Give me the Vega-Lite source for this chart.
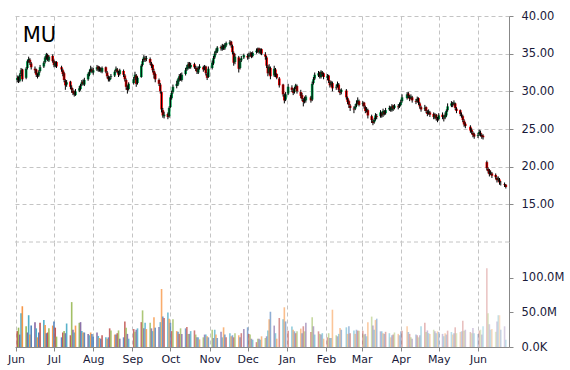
{
"$schema": "https://vega.github.io/schema/vega-lite/v6.json",
"padding": {"left": 7, "top": 10, "right": 5, "bottom": 5},
"background": "white",
"spacing": 0,
"bounds": "flush",
"config": {
  "view": {"stroke": null},
  "font": "DejaVu Sans",
  "axis": {"labelFont": "DejaVu Sans", "labelFontSize": 11.5, "labelColor": "#1a1a3a", "domainColor": "#888888", "tickColor": "#888888", "gridColor": "#c4c4c4", "gridDash": [4, 3], "gridWidth": 1, "labelOverlap": false}
},
"data": {"values": [
{"d":"2014-06-02","o":31.5,"h":32.1,"l":31.2,"c":31.8,"v":23},
{"d":"2014-06-03","o":31.9,"h":32.0,"l":31.1,"c":31.5,"v":28},
{"d":"2014-06-04","o":31.4,"h":32.4,"l":31.2,"c":32.2,"v":18},
{"d":"2014-06-05","o":32.3,"h":33.1,"l":32.0,"c":32.8,"v":49},
{"d":"2014-06-06","o":32.9,"h":33.0,"l":31.3,"c":31.6,"v":59},
{"d":"2014-06-09","o":31.8,"h":33.2,"l":31.6,"c":33.0,"v":30},
{"d":"2014-06-10","o":33.1,"h":34.2,"l":32.9,"c":34.0,"v":21},
{"d":"2014-06-11","o":34.1,"h":34.6,"l":33.8,"c":34.3,"v":46},
{"d":"2014-06-12","o":34.2,"h":34.4,"l":33.5,"c":33.8,"v":18},
{"d":"2014-06-13","o":33.7,"h":33.9,"l":32.9,"c":33.2,"v":31},
{"d":"2014-06-16","o":33.0,"h":33.3,"l":32.4,"c":32.8,"v":36},
{"d":"2014-06-17","o":32.9,"h":33.0,"l":31.9,"c":32.2,"v":27},
{"d":"2014-06-18","o":32.1,"h":32.4,"l":31.7,"c":32.0,"v":14},
{"d":"2014-06-19","o":32.1,"h":32.8,"l":31.9,"c":32.6,"v":21},
{"d":"2014-06-20","o":32.7,"h":33.5,"l":32.5,"c":33.2,"v":35},
{"d":"2014-06-23","o":33.3,"h":34.0,"l":33.1,"c":33.8,"v":39},
{"d":"2014-06-24","o":33.9,"h":34.7,"l":33.7,"c":34.5,"v":32},
{"d":"2014-06-25","o":34.4,"h":35.1,"l":34.2,"c":34.9,"v":20},
{"d":"2014-06-26","o":34.8,"h":35.0,"l":34.0,"c":34.2,"v":21},
{"d":"2014-06-27","o":34.1,"h":34.8,"l":33.9,"c":34.6,"v":27},
{"d":"2014-06-30","o":34.7,"h":34.9,"l":33.8,"c":34.0,"v":31},
{"d":"2014-07-01","o":34.0,"h":34.2,"l":33.2,"c":33.5,"v":37},
{"d":"2014-07-02","o":33.4,"h":34.0,"l":33.2,"c":33.8,"v":28},
{"d":"2014-07-03","o":33.9,"h":34.0,"l":33.1,"c":33.3,"v":15},
{"d":"2014-07-07","o":33.2,"h":33.4,"l":32.6,"c":32.9,"v":14},
{"d":"2014-07-08","o":32.8,"h":33.0,"l":32.0,"c":32.3,"v":21},
{"d":"2014-07-09","o":32.4,"h":32.6,"l":31.2,"c":31.5,"v":23},
{"d":"2014-07-10","o":31.4,"h":31.6,"l":30.2,"c":30.8,"v":20},
{"d":"2014-07-11","o":30.9,"h":31.5,"l":30.6,"c":31.2,"v":34},
{"d":"2014-07-14","o":31.3,"h":31.4,"l":30.3,"c":30.6,"v":17},
{"d":"2014-07-15","o":30.5,"h":30.8,"l":29.8,"c":30.2,"v":65},
{"d":"2014-07-16","o":30.1,"h":30.4,"l":29.5,"c":29.8,"v":25},
{"d":"2014-07-17","o":29.9,"h":30.1,"l":29.3,"c":29.6,"v":21},
{"d":"2014-07-18","o":29.5,"h":30.3,"l":29.4,"c":30.0,"v":31},
{"d":"2014-07-21","o":30.1,"h":30.7,"l":29.9,"c":30.4,"v":35},
{"d":"2014-07-22","o":30.3,"h":31.0,"l":30.1,"c":30.8,"v":36},
{"d":"2014-07-23","o":30.9,"h":31.5,"l":30.7,"c":31.2,"v":23},
{"d":"2014-07-24","o":31.3,"h":31.6,"l":30.8,"c":31.0,"v":21},
{"d":"2014-07-25","o":30.9,"h":31.8,"l":30.7,"c":31.5,"v":21},
{"d":"2014-07-28","o":31.6,"h":32.5,"l":31.4,"c":32.3,"v":19},
{"d":"2014-07-29","o":32.2,"h":32.9,"l":32.0,"c":32.6,"v":17},
{"d":"2014-07-30","o":32.7,"h":33.4,"l":32.5,"c":33.0,"v":21},
{"d":"2014-07-31","o":32.9,"h":33.2,"l":32.4,"c":32.6,"v":19},
{"d":"2014-08-01","o":32.5,"h":33.1,"l":32.2,"c":32.8,"v":15},
{"d":"2014-08-04","o":32.9,"h":33.5,"l":32.7,"c":33.2,"v":21},
{"d":"2014-08-05","o":33.3,"h":33.4,"l":32.6,"c":32.9,"v":16},
{"d":"2014-08-06","o":32.8,"h":33.3,"l":32.6,"c":33.0,"v":13},
{"d":"2014-08-07","o":33.1,"h":33.2,"l":32.5,"c":32.7,"v":12},
{"d":"2014-08-08","o":32.6,"h":33.3,"l":32.4,"c":33.1,"v":17},
{"d":"2014-08-11","o":33.2,"h":33.3,"l":32.4,"c":32.6,"v":14},
{"d":"2014-08-12","o":32.5,"h":32.7,"l":31.7,"c":32.0,"v":12},
{"d":"2014-08-13","o":31.9,"h":32.1,"l":31.3,"c":31.6,"v":14},
{"d":"2014-08-14","o":31.5,"h":32.0,"l":31.3,"c":31.8,"v":27},
{"d":"2014-08-15","o":31.9,"h":32.3,"l":31.6,"c":32.0,"v":24},
{"d":"2014-08-18","o":32.1,"h":32.8,"l":31.9,"c":32.6,"v":18},
{"d":"2014-08-19","o":32.7,"h":33.3,"l":32.5,"c":33.0,"v":18},
{"d":"2014-08-20","o":32.9,"h":33.1,"l":32.4,"c":32.6,"v":20},
{"d":"2014-08-21","o":32.5,"h":32.7,"l":31.9,"c":32.2,"v":24},
{"d":"2014-08-22","o":32.3,"h":33.0,"l":32.1,"c":32.8,"v":12},
{"d":"2014-08-25","o":32.7,"h":32.9,"l":31.9,"c":32.2,"v":14},
{"d":"2014-08-26","o":32.1,"h":32.3,"l":31.3,"c":31.6,"v":37},
{"d":"2014-08-27","o":31.5,"h":31.7,"l":30.2,"c":30.6,"v":28},
{"d":"2014-08-28","o":30.5,"h":30.8,"l":29.7,"c":30.2,"v":19},
{"d":"2014-08-29","o":30.3,"h":31.2,"l":30.1,"c":31.0,"v":12},
{"d":"2014-09-02","o":31.1,"h":31.9,"l":30.9,"c":31.6,"v":26},
{"d":"2014-09-03","o":31.7,"h":32.6,"l":31.5,"c":32.2,"v":22},
{"d":"2014-09-04","o":32.1,"h":32.3,"l":30.6,"c":31.0,"v":25},
{"d":"2014-09-05","o":31.1,"h":32.0,"l":30.9,"c":31.8,"v":27},
{"d":"2014-09-08","o":31.9,"h":33.6,"l":31.8,"c":33.4,"v":36},
{"d":"2014-09-09","o":33.5,"h":34.3,"l":33.3,"c":34.0,"v":53},
{"d":"2014-09-10","o":34.1,"h":34.8,"l":33.9,"c":34.5,"v":27},
{"d":"2014-09-11","o":34.4,"h":34.7,"l":33.9,"c":34.2,"v":35},
{"d":"2014-09-12","o":34.3,"h":34.7,"l":34.0,"c":34.4,"v":26},
{"d":"2014-09-15","o":34.3,"h":34.5,"l":33.5,"c":33.8,"v":35},
{"d":"2014-09-16","o":33.7,"h":33.9,"l":33.1,"c":33.4,"v":27},
{"d":"2014-09-17","o":33.5,"h":33.6,"l":32.5,"c":32.8,"v":23},
{"d":"2014-09-18","o":32.7,"h":33.0,"l":31.7,"c":32.2,"v":43},
{"d":"2014-09-19","o":32.3,"h":32.5,"l":31.2,"c":31.6,"v":28},
{"d":"2014-09-22","o":31.5,"h":31.7,"l":30.7,"c":31.0,"v":29},
{"d":"2014-09-23","o":30.9,"h":31.1,"l":29.7,"c":30.0,"v":36},
{"d":"2014-09-24","o":29.9,"h":30.0,"l":27.2,"c":27.6,"v":84},
{"d":"2014-09-25","o":27.5,"h":27.8,"l":26.5,"c":26.8,"v":44},
{"d":"2014-09-26","o":26.7,"h":27.3,"l":26.4,"c":26.9,"v":42},
{"d":"2014-09-29","o":27.0,"h":27.2,"l":26.3,"c":26.6,"v":50},
{"d":"2014-09-30","o":26.7,"h":28.0,"l":26.5,"c":27.8,"v":41},
{"d":"2014-10-01","o":27.9,"h":29.5,"l":27.8,"c":29.2,"v":35},
{"d":"2014-10-02","o":29.1,"h":30.1,"l":28.9,"c":29.8,"v":23},
{"d":"2014-10-03","o":29.9,"h":30.9,"l":29.7,"c":30.6,"v":40},
{"d":"2014-10-06","o":30.7,"h":31.4,"l":30.4,"c":31.0,"v":23},
{"d":"2014-10-07","o":30.9,"h":31.8,"l":30.7,"c":31.6,"v":22},
{"d":"2014-10-08","o":31.5,"h":32.3,"l":31.3,"c":32.0,"v":19},
{"d":"2014-10-09","o":32.1,"h":32.4,"l":31.4,"c":31.6,"v":27},
{"d":"2014-10-10","o":31.5,"h":32.5,"l":31.3,"c":32.2,"v":19},
{"d":"2014-10-13","o":32.3,"h":33.1,"l":32.1,"c":32.8,"v":27},
{"d":"2014-10-14","o":32.9,"h":33.5,"l":32.7,"c":33.2,"v":29},
{"d":"2014-10-15","o":33.1,"h":33.9,"l":32.9,"c":33.6,"v":19},
{"d":"2014-10-16","o":33.7,"h":33.9,"l":33.0,"c":33.3,"v":19},
{"d":"2014-10-17","o":33.2,"h":33.8,"l":33.0,"c":33.5,"v":23},
{"d":"2014-10-20","o":33.6,"h":33.8,"l":33.0,"c":33.2,"v":24},
{"d":"2014-10-21","o":33.1,"h":33.4,"l":32.7,"c":33.0,"v":18},
{"d":"2014-10-22","o":33.1,"h":33.3,"l":32.3,"c":32.6,"v":14},
{"d":"2014-10-23","o":32.5,"h":33.3,"l":32.3,"c":33.0,"v":14},
{"d":"2014-10-24","o":33.1,"h":33.6,"l":32.9,"c":33.3,"v":11},
{"d":"2014-10-27","o":33.2,"h":33.4,"l":32.6,"c":32.9,"v":14},
{"d":"2014-10-28","o":33.0,"h":33.5,"l":32.8,"c":33.2,"v":18},
{"d":"2014-10-29","o":33.3,"h":33.4,"l":32.1,"c":32.4,"v":18},
{"d":"2014-10-30","o":32.3,"h":32.5,"l":31.5,"c":31.8,"v":15.5},
{"d":"2014-10-31","o":31.9,"h":33.3,"l":31.8,"c":33.0,"v":14},
{"d":"2014-11-03","o":33.1,"h":34.1,"l":32.9,"c":33.8,"v":25},
{"d":"2014-11-04","o":33.7,"h":34.7,"l":33.5,"c":34.4,"v":13},
{"d":"2014-11-05","o":34.5,"h":35.3,"l":34.3,"c":35.0,"v":25},
{"d":"2014-11-06","o":35.1,"h":35.7,"l":34.8,"c":35.4,"v":18},
{"d":"2014-11-07","o":35.3,"h":36.0,"l":35.1,"c":35.8,"v":13},
{"d":"2014-11-10","o":35.9,"h":36.1,"l":35.4,"c":35.7,"v":22},
{"d":"2014-11-11","o":35.6,"h":36.3,"l":35.4,"c":36.0,"v":14},
{"d":"2014-11-12","o":36.1,"h":36.2,"l":35.5,"c":35.8,"v":28.5},
{"d":"2014-11-13","o":35.7,"h":36.4,"l":35.5,"c":36.2,"v":18},
{"d":"2014-11-14","o":36.1,"h":36.6,"l":35.9,"c":36.4,"v":14},
{"d":"2014-11-17","o":36.3,"h":36.8,"l":36.1,"c":36.5,"v":20},
{"d":"2014-11-18","o":36.6,"h":36.7,"l":35.8,"c":36.1,"v":15.5},
{"d":"2014-11-19","o":36.0,"h":36.2,"l":34.9,"c":35.2,"v":17},
{"d":"2014-11-20","o":35.1,"h":35.3,"l":33.4,"c":33.8,"v":14},
{"d":"2014-11-21","o":33.9,"h":35.0,"l":33.6,"c":34.6,"v":20},
{"d":"2014-11-24","o":34.5,"h":34.7,"l":32.5,"c":33.0,"v":17},
{"d":"2014-11-25","o":33.1,"h":34.3,"l":32.9,"c":34.0,"v":14},
{"d":"2014-11-26","o":34.1,"h":34.7,"l":33.9,"c":34.4,"v":20},
{"d":"2014-11-28","o":34.5,"h":35.0,"l":34.3,"c":34.8,"v":26},
{"d":"2014-12-01","o":34.7,"h":35.0,"l":34.2,"c":34.5,"v":28.5},
{"d":"2014-12-02","o":34.6,"h":35.1,"l":34.3,"c":34.8,"v":19},
{"d":"2014-12-03","o":34.9,"h":35.3,"l":34.6,"c":35.0,"v":18},
{"d":"2014-12-04","o":35.1,"h":35.2,"l":34.4,"c":34.6,"v":12},
{"d":"2014-12-05","o":34.7,"h":35.3,"l":34.5,"c":35.1,"v":10.6},
{"d":"2014-12-08","o":35.2,"h":35.7,"l":35.0,"c":35.4,"v":7},
{"d":"2014-12-09","o":35.3,"h":35.8,"l":35.1,"c":35.6,"v":12},
{"d":"2014-12-10","o":35.7,"h":35.8,"l":35.0,"c":35.2,"v":12},
{"d":"2014-12-11","o":35.1,"h":35.7,"l":34.9,"c":35.5,"v":10.6},
{"d":"2014-12-12","o":35.6,"h":35.7,"l":34.8,"c":35.0,"v":15.5},
{"d":"2014-12-15","o":34.9,"h":35.2,"l":34.2,"c":34.6,"v":13},
{"d":"2014-12-16","o":34.5,"h":34.7,"l":33.1,"c":33.4,"v":15.5},
{"d":"2014-12-17","o":33.3,"h":33.5,"l":32.0,"c":32.4,"v":24},
{"d":"2014-12-18","o":32.5,"h":33.6,"l":32.2,"c":33.2,"v":40},
{"d":"2014-12-19","o":33.1,"h":33.3,"l":31.6,"c":32.0,"v":51},
{"d":"2014-12-22","o":32.1,"h":33.4,"l":31.9,"c":33.0,"v":31},
{"d":"2014-12-23","o":32.9,"h":33.1,"l":31.9,"c":32.2,"v":20},
{"d":"2014-12-24","o":32.3,"h":32.4,"l":31.6,"c":31.8,"v":12},
{"d":"2014-12-26","o":31.7,"h":31.9,"l":30.5,"c":30.8,"v":42},
{"d":"2014-12-29","o":30.9,"h":31.0,"l":29.3,"c":29.6,"v":40},
{"d":"2014-12-30","o":29.5,"h":29.7,"l":28.4,"c":28.8,"v":57.5},
{"d":"2014-12-31","o":28.9,"h":29.9,"l":28.7,"c":29.6,"v":37},
{"d":"2015-01-02","o":29.7,"h":31.0,"l":29.5,"c":30.6,"v":23.7},
{"d":"2015-01-05","o":30.5,"h":30.8,"l":29.9,"c":30.2,"v":29.5},
{"d":"2015-01-06","o":30.1,"h":30.4,"l":29.5,"c":29.8,"v":25},
{"d":"2015-01-07","o":29.9,"h":30.6,"l":29.7,"c":30.4,"v":22.7},
{"d":"2015-01-08","o":30.5,"h":31.0,"l":30.3,"c":30.8,"v":20},
{"d":"2015-01-09","o":30.7,"h":30.9,"l":29.7,"c":30.0,"v":22.7},
{"d":"2015-01-12","o":29.9,"h":30.2,"l":29.1,"c":29.4,"v":26.6},
{"d":"2015-01-13","o":29.5,"h":29.8,"l":28.7,"c":29.0,"v":20},
{"d":"2015-01-14","o":28.9,"h":29.1,"l":28.0,"c":28.6,"v":30},
{"d":"2015-01-15","o":28.7,"h":29.3,"l":28.4,"c":28.9,"v":22.7},
{"d":"2015-01-16","o":28.8,"h":29.5,"l":28.5,"c":29.3,"v":35},
{"d":"2015-01-20","o":29.2,"h":29.4,"l":28.5,"c":28.8,"v":21.7},
{"d":"2015-01-21","o":28.9,"h":31.3,"l":28.7,"c":31.0,"v":43},
{"d":"2015-01-22","o":31.1,"h":31.9,"l":30.9,"c":31.6,"v":30},
{"d":"2015-01-23","o":31.7,"h":32.5,"l":31.5,"c":32.2,"v":18},
{"d":"2015-01-26","o":32.1,"h":32.7,"l":31.9,"c":32.4,"v":22.7},
{"d":"2015-01-27","o":32.5,"h":32.6,"l":31.7,"c":32.0,"v":19},
{"d":"2015-01-28","o":31.9,"h":32.8,"l":31.7,"c":32.6,"v":18},
{"d":"2015-01-29","o":32.5,"h":32.7,"l":32.0,"c":32.3,"v":20},
{"d":"2015-01-30","o":32.4,"h":32.5,"l":31.6,"c":31.9,"v":12},
{"d":"2015-02-02","o":31.8,"h":32.3,"l":31.5,"c":32.0,"v":14},
{"d":"2015-02-03","o":32.1,"h":32.2,"l":31.1,"c":31.4,"v":20},
{"d":"2015-02-04","o":31.3,"h":31.5,"l":30.5,"c":30.8,"v":13},
{"d":"2015-02-05","o":30.9,"h":31.4,"l":30.6,"c":31.2,"v":13},
{"d":"2015-02-06","o":31.1,"h":31.3,"l":30.0,"c":30.4,"v":54},
{"d":"2015-02-09","o":30.5,"h":30.9,"l":30.2,"c":30.6,"v":17},
{"d":"2015-02-10","o":30.7,"h":31.3,"l":30.5,"c":31.0,"v":15.5},
{"d":"2015-02-11","o":30.9,"h":31.1,"l":29.9,"c":30.2,"v":19},
{"d":"2015-02-12","o":30.1,"h":30.3,"l":29.5,"c":29.8,"v":27.5},
{"d":"2015-02-13","o":29.9,"h":30.4,"l":29.6,"c":30.2,"v":25},
{"d":"2015-02-17","o":30.1,"h":30.3,"l":28.9,"c":29.2,"v":28.5},
{"d":"2015-02-18","o":29.1,"h":29.3,"l":28.3,"c":28.6,"v":19},
{"d":"2015-02-19","o":28.7,"h":28.9,"l":27.8,"c":28.2,"v":30},
{"d":"2015-02-20","o":28.1,"h":28.3,"l":27.4,"c":27.8,"v":20},
{"d":"2015-02-23","o":27.7,"h":28.0,"l":27.1,"c":27.6,"v":24},
{"d":"2015-02-24","o":27.7,"h":28.3,"l":27.5,"c":28.0,"v":19},
{"d":"2015-02-25","o":28.1,"h":28.8,"l":27.9,"c":28.4,"v":25},
{"d":"2015-02-26","o":28.5,"h":29.2,"l":28.3,"c":28.8,"v":23.7},
{"d":"2015-02-27","o":28.7,"h":28.9,"l":28.0,"c":28.2,"v":23.7},
{"d":"2015-03-02","o":28.3,"h":28.7,"l":28.0,"c":28.4,"v":23.7},
{"d":"2015-03-03","o":28.5,"h":28.6,"l":27.7,"c":28.0,"v":18},
{"d":"2015-03-04","o":27.9,"h":28.1,"l":27.1,"c":27.4,"v":19},
{"d":"2015-03-05","o":27.5,"h":27.9,"l":27.2,"c":27.6,"v":15.5},
{"d":"2015-03-06","o":27.5,"h":27.7,"l":26.4,"c":26.8,"v":36},
{"d":"2015-03-09","o":26.7,"h":26.9,"l":25.8,"c":26.2,"v":44},
{"d":"2015-03-10","o":26.1,"h":26.3,"l":25.5,"c":25.8,"v":31},
{"d":"2015-03-11","o":25.9,"h":26.5,"l":25.7,"c":26.2,"v":25},
{"d":"2015-03-12","o":26.3,"h":27.1,"l":26.1,"c":26.8,"v":39},
{"d":"2015-03-13","o":26.7,"h":27.0,"l":26.3,"c":26.6,"v":41},
{"d":"2015-03-16","o":26.7,"h":27.5,"l":26.5,"c":27.2,"v":22.7},
{"d":"2015-03-17","o":27.1,"h":27.3,"l":26.5,"c":26.8,"v":22.7},
{"d":"2015-03-18","o":26.9,"h":27.7,"l":26.6,"c":27.4,"v":20},
{"d":"2015-03-19","o":27.3,"h":27.5,"l":26.8,"c":27.0,"v":19},
{"d":"2015-03-20","o":27.1,"h":27.8,"l":26.9,"c":27.5,"v":22},
{"d":"2015-03-23","o":27.6,"h":28.1,"l":27.4,"c":27.8,"v":20},
{"d":"2015-03-24","o":27.7,"h":28.0,"l":27.3,"c":27.6,"v":14},
{"d":"2015-03-25","o":27.5,"h":28.3,"l":27.3,"c":28.0,"v":17},
{"d":"2015-03-26","o":28.1,"h":28.2,"l":27.4,"c":27.7,"v":18},
{"d":"2015-03-27","o":27.8,"h":28.3,"l":27.6,"c":28.1,"v":21},
{"d":"2015-03-30","o":28.0,"h":28.3,"l":27.6,"c":27.9,"v":19},
{"d":"2015-03-31","o":28.0,"h":28.5,"l":27.8,"c":28.3,"v":17},
{"d":"2015-04-01","o":28.2,"h":28.9,"l":28.0,"c":28.6,"v":22.7},
{"d":"2015-04-02","o":28.7,"h":29.6,"l":28.5,"c":29.2,"v":23.7},
{"d":"2015-04-06","o":29.1,"h":29.9,"l":28.9,"c":29.6,"v":30},
{"d":"2015-04-07","o":29.7,"h":29.9,"l":29.1,"c":29.4,"v":21.7},
{"d":"2015-04-08","o":29.3,"h":29.5,"l":28.7,"c":29.0,"v":19},
{"d":"2015-04-09","o":29.1,"h":29.6,"l":28.9,"c":29.3,"v":14},
{"d":"2015-04-10","o":29.2,"h":29.4,"l":28.5,"c":28.8,"v":12},
{"d":"2015-04-13","o":28.7,"h":29.0,"l":28.3,"c":28.6,"v":18},
{"d":"2015-04-14","o":28.7,"h":29.3,"l":28.5,"c":29.0,"v":17},
{"d":"2015-04-15","o":29.1,"h":29.2,"l":28.2,"c":28.5,"v":14},
{"d":"2015-04-16","o":28.4,"h":28.6,"l":27.7,"c":28.0,"v":17},
{"d":"2015-04-17","o":27.9,"h":28.1,"l":27.3,"c":27.6,"v":30},
{"d":"2015-04-20","o":27.7,"h":28.2,"l":27.4,"c":27.8,"v":35},
{"d":"2015-04-21","o":27.9,"h":28.0,"l":27.1,"c":27.4,"v":21.7},
{"d":"2015-04-22","o":27.3,"h":27.5,"l":26.7,"c":27.0,"v":24},
{"d":"2015-04-23","o":27.1,"h":27.6,"l":26.9,"c":27.3,"v":20},
{"d":"2015-04-24","o":27.2,"h":27.4,"l":26.6,"c":26.9,"v":19},
{"d":"2015-04-27","o":27.0,"h":27.2,"l":26.3,"c":26.6,"v":25},
{"d":"2015-04-28","o":26.5,"h":27.1,"l":26.3,"c":26.8,"v":22.7},
{"d":"2015-04-29","o":26.9,"h":27.0,"l":26.1,"c":26.4,"v":20},
{"d":"2015-04-30","o":26.3,"h":26.6,"l":25.9,"c":26.2,"v":22.7},
{"d":"2015-05-01","o":26.3,"h":27.1,"l":26.1,"c":26.8,"v":21.7},
{"d":"2015-05-04","o":26.9,"h":27.2,"l":26.3,"c":26.6,"v":19},
{"d":"2015-05-05","o":26.5,"h":26.8,"l":26.0,"c":26.4,"v":15.5},
{"d":"2015-05-06","o":26.5,"h":27.2,"l":26.3,"c":26.9,"v":20},
{"d":"2015-05-07","o":26.8,"h":27.6,"l":26.6,"c":27.4,"v":18},
{"d":"2015-05-08","o":27.5,"h":28.4,"l":27.3,"c":28.0,"v":23.7},
{"d":"2015-05-11","o":28.1,"h":28.7,"l":27.9,"c":28.4,"v":21.7},
{"d":"2015-05-12","o":28.3,"h":28.6,"l":27.9,"c":28.2,"v":18},
{"d":"2015-05-13","o":28.3,"h":28.8,"l":28.1,"c":28.5,"v":20},
{"d":"2015-05-14","o":28.4,"h":28.5,"l":27.5,"c":27.8,"v":28.5},
{"d":"2015-05-15","o":27.7,"h":27.9,"l":27.1,"c":27.4,"v":20},
{"d":"2015-05-18","o":27.5,"h":27.6,"l":26.7,"c":27.0,"v":21.7},
{"d":"2015-05-19","o":26.9,"h":27.2,"l":26.5,"c":26.8,"v":22.7},
{"d":"2015-05-20","o":26.7,"h":26.9,"l":25.9,"c":26.2,"v":38},
{"d":"2015-05-21","o":26.1,"h":26.3,"l":25.3,"c":25.6,"v":23.7},
{"d":"2015-05-22","o":25.7,"h":25.9,"l":25.1,"c":25.4,"v":25},
{"d":"2015-05-26","o":25.3,"h":25.5,"l":24.5,"c":24.8,"v":21.7},
{"d":"2015-05-27","o":24.9,"h":25.1,"l":24.3,"c":24.6,"v":20},
{"d":"2015-05-28","o":24.5,"h":24.7,"l":23.9,"c":24.2,"v":27.5},
{"d":"2015-05-29","o":24.3,"h":24.5,"l":23.7,"c":24.0,"v":20},
{"d":"2015-06-01","o":24.1,"h":24.5,"l":23.8,"c":24.2,"v":19},
{"d":"2015-06-02","o":24.3,"h":24.9,"l":24.1,"c":24.6,"v":23.7},
{"d":"2015-06-03","o":24.5,"h":24.8,"l":24.0,"c":24.3,"v":25},
{"d":"2015-06-04","o":24.2,"h":24.4,"l":23.7,"c":24.0,"v":18},
{"d":"2015-06-05","o":24.1,"h":24.3,"l":23.6,"c":23.9,"v":30},
{"d":"2015-06-08","o":20.6,"h":20.8,"l":19.5,"c":19.8,"v":114},
{"d":"2015-06-09","o":19.7,"h":19.9,"l":19.1,"c":19.4,"v":49},
{"d":"2015-06-10","o":19.5,"h":19.7,"l":18.7,"c":19.0,"v":33},
{"d":"2015-06-11","o":19.1,"h":19.5,"l":18.9,"c":19.2,"v":25},
{"d":"2015-06-12","o":19.1,"h":19.3,"l":18.5,"c":18.8,"v":26},
{"d":"2015-06-15","o":18.9,"h":19.1,"l":18.3,"c":18.6,"v":22},
{"d":"2015-06-16","o":18.5,"h":18.7,"l":17.9,"c":18.2,"v":37},
{"d":"2015-06-17","o":18.3,"h":18.7,"l":18.0,"c":18.4,"v":46},
{"d":"2015-06-18","o":18.3,"h":18.5,"l":17.6,"c":17.9,"v":46},
{"d":"2015-06-19","o":17.8,"h":18.1,"l":17.5,"c":17.8,"v":25},
{"d":"2015-06-22","o":17.7,"h":17.9,"l":17.3,"c":17.6,"v":30},
{"d":"2015-06-23","o":17.6,"h":17.7,"l":17.1,"c":17.3,"v":10.6}
]},
"vconcat": [
  {
    "width": 494,
    "height": 226,
    "layer": [
      {
        "mark": {"type": "bar", "size": 2.6},
        "encoding": {
          "x": {"field": "d", "type": "temporal", "title": null,
                "scale": {"padding": 0, "domain": [{"year": 2014, "month": 5, "date": 31, "hours": 5, "utc": true}, {"year": 2015, "month": 6, "date": 25, "hours": 12, "utc": true}]},
                "axis": {"grid": true, "labels": false, "ticks": false, "domain": false, "tickCount": {"interval": "month", "step": 1}}},
          "y": {"field": "o", "type": "quantitative", "title": null,
                "scale": {"domain": [10, 40], "nice": false, "zero": false, "padding": 0},
                "axis": {"orient": "right", "values": [15, 20, 25, 30, 35, 40], "labelExpr": "format(datum.value, '.2f')", "labelOverlap": false, "labelBound": false, "tickSize": 4, "labelPadding": 8, "grid": true}},
          "y2": {"field": "c"},
          "color": {"condition": {"test": "datum.c >= datum.o", "value": "#00a651"}, "value": "#ff0000"}
        }
      },
      {
        "mark": {"type": "rule", "color": "#000000", "strokeWidth": 1},
        "encoding": {
          "x": {"field": "d", "type": "temporal"},
          "y": {"field": "l", "type": "quantitative"},
          "y2": {"field": "h"}
        }
      },
      {
        "data": {"values": [{"label": "MU"}]},
        "mark": {"type": "rule", "color": "#c4c4c4", "strokeDash": [4, 3], "strokeWidth": 1},
        "encoding": {
          "y": {"datum": 10, "type": "quantitative"}
        }
      },
      {
        "data": {"values": [{"label": "MU"}]},
        "mark": {"type": "text", "font": "DejaVu Sans", "fontSize": 21, "color": "#000000", "align": "left", "baseline": "alphabetic"},
        "encoding": {
          "x": {"datum": {"year": 2014, "month": 6, "date": 6, "hours": 7, "utc": true}, "type": "temporal"},
          "y": {"datum": 36.6, "type": "quantitative"},
          "text": {"field": "label"}
        }
      }
    ]
  },
  {
    "width": 494,
    "height": 105,
    "mark": {"type": "bar", "size": 1.6},
    "encoding": {
      "x": {"field": "d", "type": "temporal", "title": null,
            "scale": {"padding": 0, "domain": [{"year": 2014, "month": 5, "date": 31, "hours": 5, "utc": true}, {"year": 2015, "month": 6, "date": 25, "hours": 12, "utc": true}]},
            "axis": {"grid": true, "format": "%b", "tickCount": {"interval": "month", "step": 1}, "tickSize": 4, "labelPadding": 2, "labelFontSize": 11, "domain": true}},
      "y": {"field": "v", "type": "quantitative", "title": null,
            "scale": {"domain": [0, 152], "nice": false, "padding": 0},
            "axis": {"orient": "right", "values": [0, 50, 100], "labelExpr": "datum.value == 0 ? '0.0K' : format(datum.value, '.1f') + 'M'", "labelOverlap": false, "tickSize": 4, "labelPadding": 8, "grid": false}},
      "color": {"timeUnit": "date", "field": "d", "type": "nominal", "legend": null,
                "scale": {"range": ["#4f81bd", "#c0504d", "#9bbb59", "#8064a2", "#4bacc6", "#f79646"]}},
      "opacity": {"field": "d", "type": "temporal", "legend": null, "scale": {"range": [1, 0.3]}}
    }
  }
]
}
